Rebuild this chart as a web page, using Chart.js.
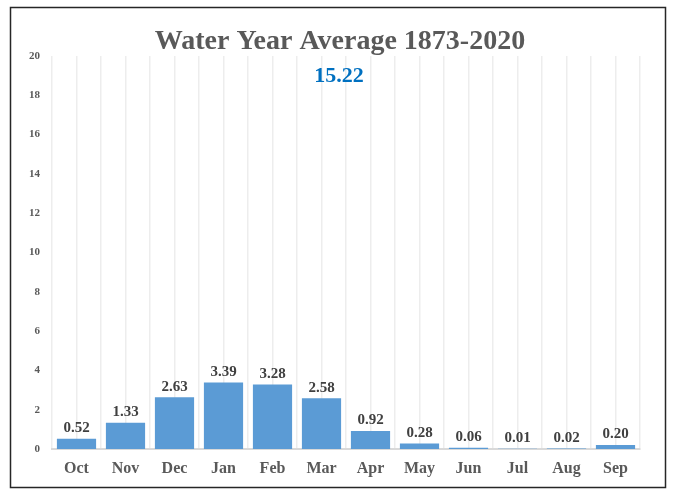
<!DOCTYPE html>
<html>
<head>
<meta charset="utf-8">
<script src="https://cdn.jsdelivr.net/npm/chart.js@4"></script>
<style>
  body { margin: 0; background: #fff; }
  #wrap { width: 692px; height: 490px; position: relative; }
</style>
</head>
<body>
<div id="wrap"><canvas id="waterChart" width="692" height="490"></canvas></div>
<script>
const months = ["Oct", "Nov", "Dec", "Jan", "Feb", "Mar", "Apr", "May", "Jun", "Jul", "Aug", "Sep"];
const averages = [0.52, 1.33, 2.63, 3.39, 3.28, 2.58, 0.92, 0.28, 0.06, 0.01, 0.02, 0.20];
const chart_title = "Water Year Average 1873-2020";
const total_label = "15.22";
const y_max = 20;
const y_step = 2;

const serif = "'Liberation Serif', 'Times New Roman', serif";

// frame, title and the total in blue
const titlePlugin = {
  id: "titleText",
  beforeDraw(chart) {
    const c = chart.ctx;
    c.save();
    c.fillStyle = "#ffffff";
    c.fillRect(0, 0, chart.width, chart.height);
    c.restore();
  },
  afterDraw(chart) {
    const c = chart.ctx;
    c.save();
    c.strokeStyle = "#262626";
    c.lineWidth = 1.5;
    c.strokeRect(10.5, 7.5, 655, 480);
    c.textAlign = "center";
    c.textBaseline = "middle";
    c.fillStyle = "#595959";
    c.font = "bold 28px " + serif;
    c.fillText(chart_title, 340, 42);
    c.fillStyle = "#0070C0";
    c.font = "bold 22px " + serif;
    c.fillText(total_label, 339, 76);
    c.restore();
  },
};

// value labels above the bars
const barLabels = {
  id: "barLabels",
  afterDatasetsDraw(chart) {
    const c = chart.ctx;
    const meta = chart.getDatasetMeta(0);
    c.save();
    c.font = "bold 15px " + serif;
    c.fillStyle = "#404040";
    c.textAlign = "center";
    c.textBaseline = "bottom";
    meta.data.forEach((bar, i) => {
      c.fillText(averages[i].toFixed(2), bar.x, bar.y - 3);
    });
    c.restore();
  },
};

new Chart(document.getElementById("waterChart"), {
  type: "bar",
  data: {
    labels: months,
    datasets: [
      {
        data: averages,
        backgroundColor: "#5B9BD5",
        borderWidth: 0,
        barPercentage: 0.8,
        categoryPercentage: 1.0,
      },
    ],
  },
  options: {
    responsive: false,
    animation: false,
    layout: { padding: { left: 0, right: 52, top: 56, bottom: 0 } },
    plugins: {
      legend: { display: false },
      tooltip: { enabled: false },
    },
    scales: {
      y: {
        min: 0,
        max: y_max,
        afterFit(scale) { scale.width = 52; },
        ticks: {
          stepSize: y_step,
          padding: 12,
          color: "#595959",
          font: { family: serif, size: 11, weight: "bold" },
        },
        grid: { display: false, drawTicks: false },
        border: { display: false },
      },
      x: {
        afterFit(scale) { scale.height = 41; },
        ticks: {
          padding: 10,
          color: "#595959",
          font: { family: serif, size: 16, weight: "bold" },
        },
        grid: { offset: true, color: "#EDEDED", lineWidth: 1.5, drawTicks: false },
        border: { display: true, color: "#D9D9D9", width: 2 },
      },
      x2: {
        type: "category",
        position: "bottom",
        offset: true,
        afterFit(scale) { scale.height = 0; },
        ticks: { display: false },
        grid: { offset: false, color: "#EDEDED", lineWidth: 1.5, drawTicks: false },
        border: { display: false },
      },
    },
  },
  plugins: [titlePlugin, barLabels],
});
</script>
</body>
</html>
